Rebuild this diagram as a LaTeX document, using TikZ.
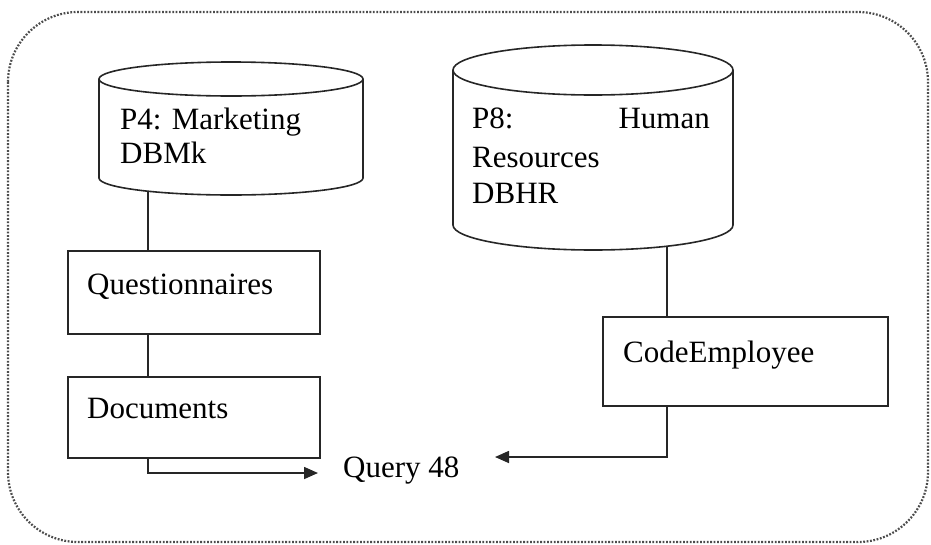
\documentclass[tikz,border=0pt]{standalone}
\usepackage{fontspec}
\setmainfont{Liberation Serif}
\usetikzlibrary{arrows.meta}
\begin{document}
\begin{tikzpicture}[x=1pt,y=-1pt,
  line/.style={line width=1.6pt, black!85},
  box/.style={draw, line width=1.6pt, black!85, inner sep=0pt, anchor=north west},
  txt/.style={inner sep=0pt, font=\fontsize{31}{36}\selectfont, anchor=base west},
  arr/.style={line, -{Triangle[length=14pt,width=12pt]}},
  frame/.style={line width=2.2pt, black!70, dash pattern=on 1.8pt off 1.6pt, rounded corners=70pt}]
\useasboundingbox (0,0) rectangle (931,544);
\draw[frame] (8,12) rectangle (928,542);

% cylinder P4
\draw[line] (99,79) -- (99,178) arc[start angle=180, end angle=360, x radius=132pt, y radius=17pt] -- (363,79);
\draw[line] (231,79) ellipse [x radius=132pt, y radius=17pt];
\coordinate (cyl1b) at (148,191);

% cylinder P8
\draw[line] (453,70) -- (453,225) arc[start angle=180, end angle=360, x radius=140pt, y radius=25pt] -- (733,70);
\draw[line] (593,70) ellipse [x radius=140pt, y radius=25pt];
\coordinate (cyl2b) at (667,246);

% boxes
\node[box, minimum width=252pt, minimum height=83pt] (q) at (67,250) {};
\node[box, minimum width=252pt, minimum height=81pt] (d) at (67,376) {};
\node[box, minimum width=285pt, minimum height=89pt] (ce) at (602,316) {};

% texts
\node[txt] (p4a) at (120,129) {P4: Marketing};
\node[txt] (p4b) at (120,163) {DBMk};
\node[txt] (p8a) at (472,128) {P8:};
\node[txt, anchor=base east] (p8b) at (710,128) {Human};
\node[txt] (p8c) at (472,167) {Resources};
\node[txt] (p8d) at (472,203) {DBHR};
\node[txt] (qt) at (87,294) {Questionnaires};
\node[txt] (dt) at (87,418) {Documents};
\node[txt] (cet) at (623,362) {CodeEmployee};
\node[txt] (query) at (343,477) {Query 48};

% connectors
\coordinate (qa) at (318,473);
\coordinate (qb) at (495,457);
\draw[line] (cyl1b) -- (cyl1b |- q.north);
\draw[line] (q.south -| cyl1b) -- (d.north -| cyl1b);
\draw[arr] (d.south -| cyl1b) |- (qa);
\draw[line] (cyl2b) -- (cyl2b |- ce.north);
\draw[arr] (ce.south -| cyl2b) |- (qb);
\end{tikzpicture}
\end{document}
